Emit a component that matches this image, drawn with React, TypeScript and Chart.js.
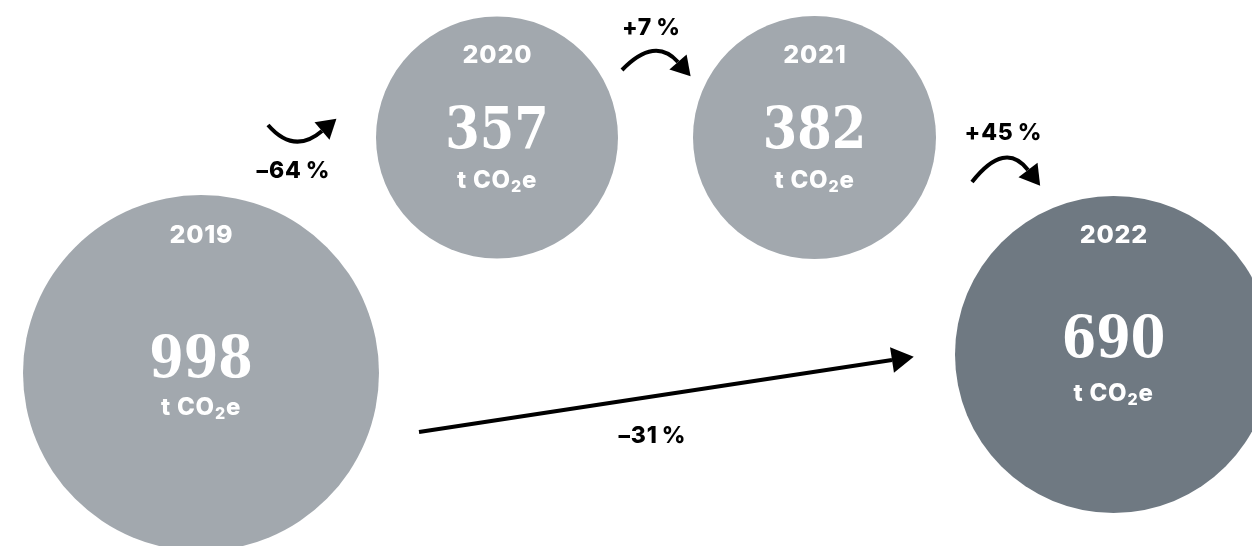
import React, { useEffect, useRef } from 'react';
import { Chart, registerables } from 'chart.js';

Chart.register(...registerables);

// ---- data ----
const years = ['2019', '2020', '2021', '2022'];
const emissions = [998, 357, 382, 690];
const unitParts = ['t CO', '2', 'e'];
const changeLabels = ['\u201364\u2009%', '+7\u2009%', '+45\u2009%', '\u201331\u2009%'];

// ---- layout (pixel-like coordinate space of the hidden scales) ----
const W = 1252;
const H = 546;
const bubbleX = [201, 497, 814.5, 1113.5];
const bubbleY = [373, 137.5, 137.5, 354.5];
const bubbleR = [178, 121, 121.5, 158.5];
const bubbleColors = ['#a2a8ae', '#a2a8ae', '#a2a8ae', '#6f7982'];
const yearBaseline = [243, 63, 63, 243];
const valueBaseline = [377, 148, 148, 357];
const unitBaseline = [415, 188, 188, 401];
// arrows: start, control, base of head (quadratic curves)
const arrowPaths = [
  [268, 125, 294, 155, 322, 131],
  [622, 70, 655, 36, 678, 62],
  [972, 182, 1005, 140, 1028, 170],
  [419, 432, 650, 397, 892, 360],
];
const arrowHead = [
  [19, 11.5],
  [19, 11.5],
  [20, 12],
  [22, 13],
];
const changeLabelPos = [
  [293, 178],
  [651, 35],
  [1003, 140],
  [652, 443],
];

const SANS = 'Inter, "Liberation Sans", sans-serif';

const overlayPlugin = {
  id: 'overlay',
  afterDatasetsDraw(chart: any) {
    const ctx = chart.ctx as any;
    const xs = chart.scales.x;
    const ys = chart.scales.y;
    const px = (v: number) => xs.getPixelForValue(v);
    const py = (v: number) => ys.getPixelForValue(v);
    const meta = chart.getDatasetMeta(0);
    ctx.save();
    ctx.fillStyle = '#ffffff';
    ctx.textAlign = 'center';
    ctx.textBaseline = 'alphabetic';
    meta.data.forEach((el: any, i: number) => {
      const cx = el.x;
      // year
      ctx.font = `800 25px ${SANS}`;
      ctx.letterSpacing = '0.8px';
      ctx.fillText(years[i], cx + 0.4, py(yearBaseline[i]));
      ctx.letterSpacing = '0px';
      // value (serif)
      ctx.save();
      ctx.font = '700 57px "DejaVu Serif", serif';
      ctx.translate(cx, py(valueBaseline[i]));
      ctx.scale(0.87, 1);
      ctx.fillText(String(emissions[i]), 0, 0);
      ctx.restore();
      // unit t CO2e
      const bigFont = `800 24px ${SANS}`;
      const subFont = `800 16px ${SANS}`;
      ctx.letterSpacing = '0.8px';
      ctx.font = bigFont;
      const w1 = ctx.measureText(unitParts[0]).width;
      const w3 = ctx.measureText(unitParts[2]).width;
      ctx.font = subFont;
      const w2 = ctx.measureText(unitParts[1]).width;
      const total = w1 + w2 + w3;
      let x0 = cx - total / 2;
      const b = py(unitBaseline[i]);
      ctx.textAlign = 'left';
      ctx.font = bigFont;
      ctx.fillText(unitParts[0], x0, b);
      x0 += w1;
      ctx.font = subFont;
      ctx.fillText(unitParts[1], x0, b + 4);
      x0 += w2;
      ctx.font = bigFont;
      ctx.fillText(unitParts[2], x0, b);
      ctx.textAlign = 'center';
      ctx.letterSpacing = '0px';
    });

    // arrows
    ctx.strokeStyle = '#000000';
    ctx.fillStyle = '#000000';
    ctx.lineWidth = 4;
    ctx.lineCap = 'butt';
    arrowPaths.forEach((a, i) => {
      const [x0, y0, c1, c2, x1, y1] = a;
      const P0 = [px(x0), py(y0)];
      const C = [px(c1), py(c2)];
      const P1 = [px(x1), py(y1)];
      ctx.beginPath();
      ctx.moveTo(P0[0], P0[1]);
      ctx.quadraticCurveTo(C[0], C[1], P1[0], P1[1]);
      ctx.stroke();
      let dx = P1[0] - C[0];
      let dy = P1[1] - C[1];
      const len = Math.hypot(dx, dy);
      dx /= len;
      dy /= len;
      const [hl, hw] = arrowHead[i];
      ctx.beginPath();
      ctx.moveTo(P1[0] + dx * hl, P1[1] + dy * hl);
      ctx.lineTo(P1[0] - dy * hw, P1[1] + dx * hw);
      ctx.lineTo(P1[0] + dy * hw, P1[1] - dx * hw);
      ctx.closePath();
      ctx.fill();
    });

    // change labels
    ctx.font = `800 23px ${SANS}`;
    ctx.letterSpacing = '0.8px';
    ctx.textAlign = 'center';
    changeLabels.forEach((t, i) => {
      ctx.fillText(t, px(changeLabelPos[i][0]) + 0.4, py(changeLabelPos[i][1]));
    });
    ctx.letterSpacing = '0px';
    ctx.restore();
  },
};

export default function App() {
  const ref = useRef<HTMLCanvasElement | null>(null);
  useEffect(() => {
    if (!ref.current) return;
    const chart = new Chart(ref.current, {
      type: 'bubble',
      data: {
        datasets: [
          {
            label: 't CO2e',
            data: years.map((_, i) => ({ x: bubbleX[i], y: bubbleY[i], r: bubbleR[i] })),
            backgroundColor: bubbleColors,
            borderWidth: 0,
            hoverRadius: 0,
            clip: false,
          } as any,
        ],
      },
      options: {
        animation: false,
        responsive: false,
        devicePixelRatio: 1,
        layout: { padding: 0, autoPadding: false },
        events: [],
        plugins: { legend: { display: false }, tooltip: { enabled: false } },
        scales: {
          x: { type: 'linear', min: 0, max: W, display: false },
          y: { type: 'linear', min: 0, max: H, reverse: true, display: false },
        },
      },
      plugins: [overlayPlugin],
    });
    return () => chart.destroy();
  }, []);
  return (
    <div style={{ position: 'absolute', left: 0, top: 0, width: W, height: H, background: '#ffffff' }}>
      <canvas ref={ref} width={W} height={H} style={{ display: 'block' }} />
    </div>
  );
}
